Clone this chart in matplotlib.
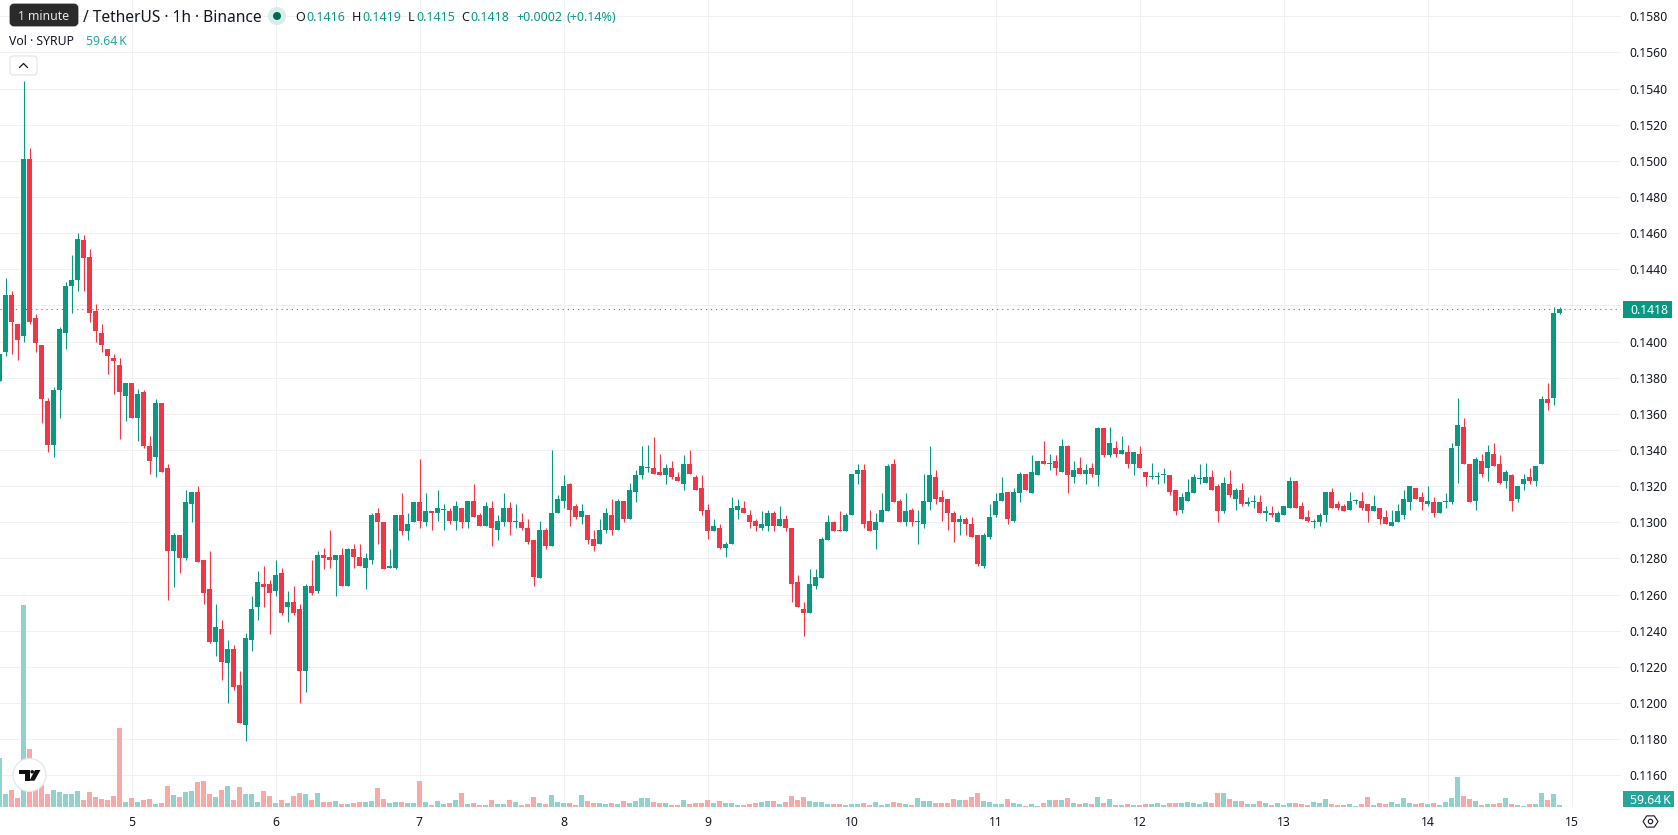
import matplotlib
matplotlib.use('Agg')
import matplotlib.pyplot as plt
from matplotlib.patches import Circle, FancyBboxPatch, Polygon, Rectangle
import numpy as np

plt.rcParams['font.family'] = ['Noto Sans', 'DejaVu Sans']

# hourly candles, prices in units of 0.0001 USDT
opens = [1378,1394,1426,1410,1403,1501,1413,1398,1367,1343,1373,
         1405,1431,1434,1456,1447,1417,1405,1396,1391,1387,
         1370,1377,1358,1372,1342,1336,1366,1330,1284,1293,
         1280,1310,1317,1279,1263,1234,1241,1222,1230,1210,
         1188,1235,1253,1266,1266,1262,1272,1253,1256,1252,
         1218,1265,1262,1282,1281,1279,1282,1265,1285,1281,
         1275,1279,1305,1300,1275,1275,1304,1295,1300,1311,
         1300,1306,1305,1307,1306,1301,1308,1300,1312,1304,
         1298,1308,1296,1300,1308,1300,1300,1297,1290,1269,
         1296,1287,1305,1312,1321,1309,1303,1304,1291,1288,
         1296,1304,1296,1312,1302,1317,1326,1330,1330,1328,
         1326,1330,1325,1321,1332,1325,1319,1307,1295,1297,
         1286,1288,1307,1308,1304,1301,1297,1298,1305,1298,
         1302,1297,1267,1252,1250,1265,1269,1290,1300,1296,
         1295,1304,1327,1329,1301,1296,1300,1306,1332,1312,
         1300,1307,1300,1299,1311,1325,1314,1313,1305,1300,
         1302,1299,1293,1276,1292,1304,1312,1317,1301,1316,
         1327,1316,1326,1334,1332,1334,1328,1342,1325,1330,
         1327,1330,1326,1352,1337,1341,1338,1339,1332,1338,
         1328,1325,1325,1326,1326,1318,1307,1312,1316,1324,
         1322,1325,1320,1306,1321,1313,1318,1310,1311,1311,
         1305,1305,1300,1304,1308,1323,1309,1303,1300,1300,
         1304,1317,1310,1309,1307,1312,1312,1310,1306,1308,
         1303,1298,1300,1304,1311,1319,1314,1310,1311,1305,
         1311,1311,1342,1353,1332,1312,1334,1330,1338,1332,
         1323,1326,1313,1321,1325,1323,1332,1368,1369,1416]
highs = [1393,1435,1428,1410,1544,1507,1415,1398,1369,1375,1408,
         1433,1448,1460,1459,1451,1421,1410,1396,1393,1391,
         1377,1377,1374,1373,1348,1368,1366,1332,1294,1293,
         1318,1317,1320,1279,1284,1255,1246,1235,1232,1218,
         1239,1259,1273,1276,1268,1279,1275,1262,1265,1255,
         1266,1279,1284,1286,1296,1282,1286,1286,1288,1288,
         1283,1305,1308,1300,1285,1304,1316,1305,1311,1335,
         1316,1306,1318,1310,1308,1312,1308,1312,1321,1305,
         1311,1312,1304,1316,1311,1310,1305,1302,1290,1301,
         1297,1340,1315,1326,1322,1310,1310,1304,1296,1302,
         1308,1313,1313,1312,1322,1329,1342,1343,1347,1338,
         1332,1334,1328,1337,1340,1326,1326,1310,1302,1299,
         1289,1314,1313,1312,1307,1302,1306,1307,1306,1309,
         1304,1297,1271,1256,1274,1274,1292,1304,1301,1306,
         1305,1327,1332,1332,1307,1305,1316,1332,1335,1313,
         1316,1308,1307,1327,1342,1329,1318,1313,1306,1304,
         1303,1303,1293,1294,1310,1316,1325,1317,1319,1328,
         1327,1337,1334,1345,1338,1337,1346,1343,1334,1336,
         1332,1333,1353,1352,1353,1345,1348,1343,1339,1342,
         1328,1333,1328,1330,1326,1318,1316,1324,1327,1332,
         1333,1329,1321,1325,1329,1319,1322,1314,1315,1315,
         1309,1309,1306,1309,1325,1323,1311,1307,1302,1305,
         1317,1319,1312,1310,1317,1313,1317,1310,1315,1308,
         1307,1307,1310,1318,1320,1319,1317,1320,1314,1311,
         1316,1344,1369,1358,1332,1336,1338,1343,1344,1337,
         1329,1327,1320,1327,1330,1331,1370,1377,1419,1419]
lows = [1378,1392,1393,1390,1400,1410,1394,1355,1339,1336,1358,
        1396,1416,1428,1428,1411,1400,1394,1382,1371,1346,
        1356,1358,1345,1341,1327,1325,1328,1257,1264,1272,
        1279,1300,1278,1255,1233,1226,1213,1200,1207,1189,
        1179,1229,1246,1253,1238,1259,1249,1245,1249,1200,
        1206,1260,1261,1274,1275,1259,1265,1265,1275,1276,
        1263,1277,1288,1274,1275,1274,1293,1290,1300,1297,
        1298,1296,1301,1296,1299,1296,1297,1297,1303,1298,
        1298,1287,1290,1298,1293,1297,1296,1288,1265,1269,
        1285,1287,1305,1308,1298,1302,1299,1288,1284,1288,
        1294,1293,1296,1300,1302,1311,1324,1328,1327,1326,
        1321,1324,1323,1318,1327,1318,1304,1291,1295,1285,
        1281,1288,1302,1305,1297,1295,1296,1295,1295,1298,
        1295,1256,1253,1237,1250,1263,1269,1290,1295,1295,
        1295,1304,1321,1297,1295,1285,1300,1306,1311,1300,
        1298,1298,1288,1297,1307,1310,1301,1296,1289,1293,
        1293,1292,1276,1275,1291,1303,1312,1299,1300,1311,
        1318,1316,1326,1332,1329,1326,1328,1316,1322,1327,
        1321,1325,1320,1336,1336,1336,1338,1330,1326,1330,
        1320,1324,1321,1322,1315,1304,1305,1312,1316,1321,
        1322,1318,1300,1305,1314,1307,1309,1309,1308,1305,
        1301,1303,1300,1304,1308,1308,1302,1300,1297,1298,
        1300,1308,1307,1306,1307,1310,1307,1300,1306,1299,
        1299,1298,1300,1302,1307,1313,1307,1309,1303,1305,
        1308,1310,1322,1332,1311,1307,1325,1323,1331,1321,
        1319,1306,1311,1318,1321,1320,1332,1362,1365,1415]
closes = [1393,1426,1411,1401,1501,1411,1399,1368,1343,1373,1407,
          1431,1434,1457,1446,1416,1406,1398,1392,1389,1372,
          1377,1358,1371,1342,1334,1366,1328,1284,1293,1280,
          1311,1317,1278,1261,1234,1242,1223,1230,1209,1189,
          1236,1252,1267,1264,1261,1271,1250,1256,1250,1218,
          1265,1261,1282,1280,1279,1282,1265,1285,1281,1276,
          1280,1304,1300,1274,1276,1304,1295,1299,1311,1301,
          1306,1305,1308,1307,1301,1309,1300,1312,1303,1298,
          1309,1297,1301,1308,1300,1300,1297,1289,1270,1296,
          1287,1305,1313,1320,1307,1303,1306,1290,1287,1296,
          1305,1296,1312,1302,1318,1326,1331,1330,1327,1326,
          1330,1325,1323,1332,1327,1318,1306,1295,1298,1286,
          1288,1308,1309,1305,1300,1298,1299,1305,1298,1302,
          1297,1266,1253,1250,1266,1270,1291,1300,1295,1295,
          1304,1327,1329,1299,1295,1300,1307,1331,1311,1300,
          1306,1300,1300,1312,1326,1313,1311,1305,1300,1302,
          1299,1292,1277,1293,1303,1312,1316,1302,1317,1327,
          1318,1328,1334,1332,1333,1330,1342,1326,1329,1327,
          1329,1327,1352,1337,1344,1338,1340,1332,1339,1330,
          1325,1325,1325,1327,1317,1306,1314,1317,1325,1324,
          1325,1318,1306,1322,1315,1318,1310,1311,1311,1305,
          1306,1304,1305,1309,1323,1308,1302,1301,1300,1304,
          1317,1308,1308,1306,1312,1312,1308,1306,1309,1302,
          1299,1300,1306,1313,1320,1313,1311,1312,1305,1311,
          1312,1341,1354,1332,1311,1335,1327,1339,1331,1322,
          1328,1312,1320,1324,1323,1331,1368,1366,1416,1418]
# volume in thousands of SYRUP
volumes = [1470,390,510,270,6060,1740,800,660,390,510,450,
           390,390,480,210,450,300,240,210,330,2370,
           150,270,150,210,240,90,120,630,360,300,
           450,480,750,780,390,300,510,630,210,600,
           390,390,150,480,330,120,210,120,330,420,
           390,210,420,150,150,180,90,90,120,150,
           150,180,570,240,120,150,150,120,120,780,
           150,60,180,90,120,210,420,90,120,60,
           60,210,90,90,210,150,60,90,300,120,
           90,360,150,120,120,60,360,180,120,120,
           90,120,90,180,120,180,270,270,150,120,
           120,60,60,210,90,120,120,210,120,180,
           120,120,60,60,90,120,150,180,180,90,
           150,330,210,300,180,150,150,90,90,90,
           60,90,90,120,60,150,60,90,150,120,
           90,60,270,180,180,120,120,120,240,210,
           210,300,420,180,150,90,90,240,120,90,
           30,90,30,120,210,210,210,270,120,90,
           120,90,300,120,240,60,60,90,60,60,
           90,90,120,60,120,120,120,150,120,90,
           150,120,420,420,240,180,180,90,90,180,
           120,60,120,60,120,120,90,60,150,120,
           240,90,60,60,90,30,90,300,60,120,
           90,150,90,270,120,90,120,90,120,60,
           150,270,900,330,240,180,60,90,90,120,
           270,90,60,30,90,90,420,210,390,59.64]
price_ticks = [0.116 + 0.002 * k for k in range(22)]
day_labels = ['5', '6', '7', '8', '9', '10', '11', '12', '13', '14', '15']
bold_days = ['8', '15']
first_day_bar = 22  # position of the "5" session start
bars_per_day = 24
last_price = 0.1418

UP = '#089981'
DOWN = '#F23645'
VOL_UP = '#92D2CC'
VOL_DOWN = '#F7A9A7'
GRID = '#F0F1F3'
TEXT = '#131722'

W, H = 1678, 835
PANE_R, PANE_B = 1621, 807
BAR_PX = 6.0
PRICE_MIN, PRICE_MAX = 0.11425, 0.1589

o = np.array(opens) / 1e4
h = np.array(highs) / 1e4
l = np.array(lows) / 1e4
c = np.array(closes) / 1e4
v = np.array(volumes, dtype=float)
x = np.arange(len(o))
up = c >= o

fig = plt.figure(figsize=(W / 100, H / 100), dpi=100, facecolor='white')
ax = fig.add_axes([0, (H - PANE_B) / H, PANE_R / W, PANE_B / H])
ax_vol = ax.twinx()

# volume sits underneath the candles
ax.set_zorder(ax_vol.get_zorder() + 1)
ax.patch.set_visible(False)
ax_vol.patch.set_visible(True)
ax_vol.patch.set_facecolor('white')
ax_vol.set_yticks([])
ax_vol.bar(x, v, width=5 / BAR_PX, color=np.where(up, VOL_UP, VOL_DOWN), linewidth=0, zorder=2)

# grid goes on the volume axes so it stays behind the bars
vol_top = PANE_B * 30
for p in price_ticks:
    ax_vol.axhline((p - PRICE_MIN) / (PRICE_MAX - PRICE_MIN) * vol_top, color=GRID, lw=0.72, zorder=0)
day_pos = [first_day_bar + bars_per_day * k for k in range(len(day_labels))]
for d in day_pos:
    ax_vol.axvline(d, color=GRID, lw=0.72, zorder=0)

colors = np.where(up, UP, DOWN)
ax.vlines(x, l, h, colors=colors, lw=0.8, zorder=3)
ax.bar(x, np.maximum(np.abs(c - o), 0.00006), bottom=np.minimum(o, c), width=5 / BAR_PX,
       color=colors, linewidth=0, zorder=4)
ax.axhline(last_price, color=UP, lw=0.8, ls=(0, (1, 3.6)), zorder=2)

# the 0.1420 label is covered by the last price tag
tick_text = ['%.4f' % p for p in price_ticks]
tick_text[tick_text.index('0.1420')] = ''

ax.yaxis.tick_right()
ax.set_yticks(price_ticks)
ax.set_yticklabels(tick_text)
ax.set_xticks(day_pos)
ax.set_xticklabels(day_labels)
ax.tick_params(axis='y', length=0, pad=6.3, labelsize=8.8, labelcolor=TEXT)
ax.tick_params(axis='x', length=0, pad=6.5, labelsize=8.8, labelcolor=TEXT)
for lab in ax.get_xticklabels():
    if lab.get_text() in bold_days:
        lab.set_fontweight('bold')
for a in (ax, ax_vol):
    for s in a.spines.values():
        s.set_visible(False)
ax_vol.tick_params(axis='both', length=0, labelbottom=False, labelright=False)

# x pixel of bar n is -0.5 + 6n
ax.set_xlim(0.5 / BAR_PX, (PANE_R + 0.5) / BAR_PX)
ax.set_ylim(PRICE_MIN, PRICE_MAX)
ax_vol.set_ylim(0, vol_top)

# overlay in pixel coordinates for the legend, tags and buttons
ui = fig.add_axes([0, 0, 1, 1], zorder=10)
ui.set_xlim(0, W)
ui.set_ylim(H, 0)
ui.axis('off')

ui.add_patch(FancyBboxPatch((11, 5), 66, 20, boxstyle='round,pad=0,rounding_size=3', fc='#2A2A2A', ec='#2A2A2A', lw=2))
ui.text(44, 20, '1 minute', color='#E8E8E8', fontsize=8.8, ha='center', va='baseline')
ui.text(83, 22, '/ TetherUS · 1h · Binance', color=TEXT, fontsize=11.2, ha='left', va='baseline')

ui.add_patch(Circle((277, 16), 9, fc='#D5EEEA', ec='none'))
ui.add_patch(Circle((277, 16), 4, fc='#056656', ec='none'))

legend_labels = [(295, 'O'), (351.5, 'H'), (408, 'L'), (461.5, 'C')]
legend_values = [(306, '0.1416'), (362, '0.1419'), (416, '0.1415'), (470.5, '0.1418'),
                 (516.5, '+0.0002'), (566.5, '(+0.14%)')]
for px, s in legend_labels:
    ui.text(px, 20.7, s, color=TEXT, fontsize=9, ha='left', va='baseline')
for px, s in legend_values:
    ui.text(px, 20.7, s, color=UP, fontsize=9, ha='left', va='baseline')

ui.text(9, 45, 'Vol · SYRUP', color=TEXT, fontsize=8.8, ha='left', va='baseline')
ui.text(86, 45, '59.64\u2009K', color='#26A69A', fontsize=8.8, ha='left', va='baseline')

ui.add_patch(FancyBboxPatch((10, 56), 27, 19, boxstyle='round,pad=0,rounding_size=3', fc='white', ec='#E0E3EB', lw=0.8))
ui.plot([19.5, 23.5, 27.5], [67.5, 63.5, 67.5], color=TEXT, lw=0.9, solid_capstyle='round')

# TradingView badge over the volume bars
ui.add_patch(Circle((29.5, 775), 16.5, fc='white', ec='#E6E6E6', lw=0.9))
ui.add_patch(Rectangle((19, 770), 11, 3.6, fc='#111111', ec='none'))
ui.add_patch(Rectangle((25, 770), 5, 10.7, fc='#111111', ec='none'))
ui.add_patch(Circle((32.2, 771.8), 1.8, fc='#111111', ec='none'))
ui.add_patch(Polygon([(35, 770), (40.5, 770), (34.5, 780.7), (29.5, 780.7)], fc='#111111', ec='none'))

# price scale tags
ui.add_patch(Rectangle((1623, 301), 49, 16.5, fc=UP, ec='none'))
ui.text(1630, 314, '0.1418', color='white', fontsize=8.8, ha='left', va='baseline')
ui.add_patch(Rectangle((1623, 791), 50.5, 16, fc='#26A69A', ec='none'))
ui.text(1630, 803.5, '59.64\u2009K', color='white', fontsize=8.8, ha='left', va='baseline')

# settings button below the scale
angles = np.deg2rad([0, 60, 120, 180, 240, 300])
ui.add_patch(Polygon(np.column_stack([1650.5 + 7.5 * np.cos(angles), 821.5 + 6.5 * np.sin(angles)]),
                     fc='white', ec=TEXT, lw=0.8))
ui.add_patch(Circle((1650.5, 821.5), 2.2, fc='white', ec=TEXT, lw=0.8))

fig.savefig('out.png', dpi=100)
